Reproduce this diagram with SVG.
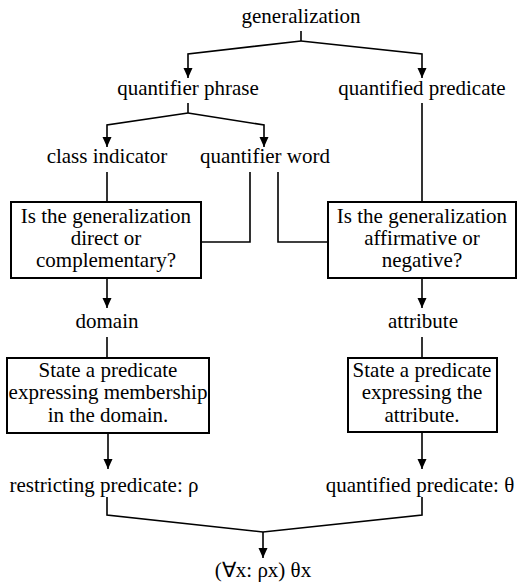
<svg xmlns="http://www.w3.org/2000/svg" width="517" height="584" viewBox="0 0 517 584">
<style>
text{font-size:21px;fill:#000;text-anchor:middle}
.c{fill:none;stroke:#000;stroke-width:1.6}
.a{fill:none;stroke:#000;stroke-width:1.6;marker-end:url(#ah)}
.b{fill:#fff;stroke:#000;stroke-width:2}
</style>
<defs>
<marker id="ah" markerUnits="userSpaceOnUse" markerWidth="10" markerHeight="10" refX="10" refY="4.5" orient="auto">
<path d="M0,0 L10,4.5 L0,9 z" fill="#000"/>
</marker>
</defs>
<rect width="517" height="584" fill="#fff"/>
<g id="connectors">
<path class="c" d="M301,31 V41"/>
<path class="a" d="M301,41 L188,54 V78"/>
<path class="a" d="M301,41 L422,54 V78"/>
<path class="c" d="M188,103 V113"/>
<path class="a" d="M188,113 L107,125 V147"/>
<path class="a" d="M188,113 L264,125 V147"/>
<path class="c" d="M107,172 V202"/>
<path class="c" d="M250,172 V242 H201"/>
<path class="c" d="M278,172 V242 H328"/>
<path class="c" d="M422,103 V202"/>
<path class="a" d="M107,278 V308"/>
<path class="a" d="M422,278 V308"/>
<path class="c" d="M107,337 V358"/>
<path class="c" d="M422,337 V358"/>
<path class="a" d="M108,433 V469"/>
<path class="a" d="M422,432 V469"/>
<path class="c" d="M107,497 V515 L263,532 L422,515 V497"/>
<path class="a" d="M263,532 V558"/>
</g>
<g font-family="Liberation Serif, Times New Roman, serif">
<g id="generalization"><text x="301" y="23">generalization</text></g>
<g id="quantifier-phrase"><text x="188" y="95">quantifier phrase</text></g>
<g id="quantified-predicate"><text x="422" y="95">quantified predicate</text></g>
<g id="class-indicator"><text x="107" y="163">class indicator</text></g>
<g id="quantifier-word"><text x="265" y="163">quantifier word</text></g>
<g id="q-direct">
<rect class="b" x="11" y="202" width="190" height="76"/>
<text x="106" y="223">Is the generalization</text>
<text x="106" y="245">direct or</text>
<text x="106" y="267">complementary?</text>
</g>
<g id="q-affirmative">
<rect class="b" x="328" y="202" width="188" height="76"/>
<text x="422" y="223">Is the generalization</text>
<text x="422" y="245">affirmative or</text>
<text x="422" y="267">negative?</text>
</g>
<g id="domain"><text x="107" y="328">domain</text></g>
<g id="attribute"><text x="423" y="328">attribute</text></g>
<g id="state-domain">
<rect class="b" x="7" y="358" width="202" height="75"/>
<text x="108" y="377">State a predicate</text>
<text x="108" y="399">expressing membership</text>
<text x="108" y="422">in the domain.</text>
</g>
<g id="state-attribute">
<rect class="b" x="348" y="358" width="149" height="74"/>
<text x="422" y="377">State a predicate</text>
<text x="422" y="399">expressing the</text>
<text x="422" y="422">attribute.</text>
</g>
<g id="restricting"><text x="104" y="492">restricting predicate: ρ</text></g>
<g id="quantified-theta"><text x="420" y="492">quantified predicate: θ</text></g>
<g id="result"><text x="263" y="577">(∀x: ρx) θx</text></g>
</g>
</svg>
